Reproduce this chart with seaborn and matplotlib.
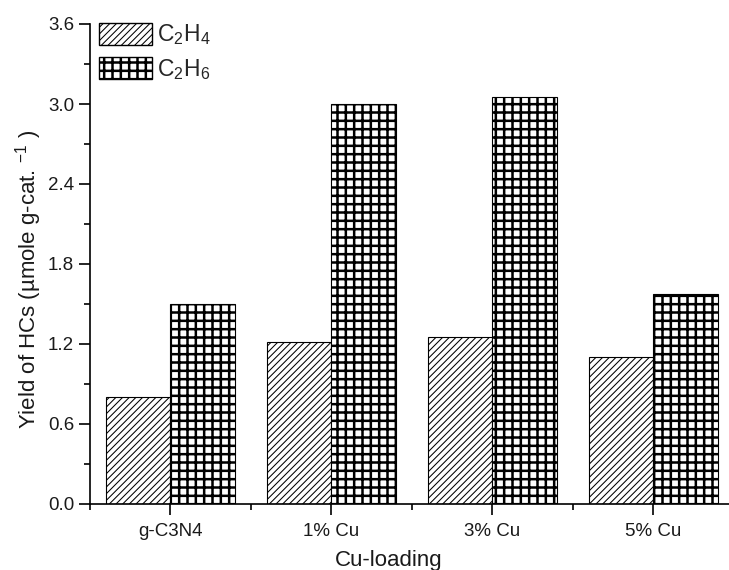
import numpy as np
import pandas as pd
import matplotlib
matplotlib.use('Agg')
import matplotlib.pyplot as plt
import seaborn as sns
from matplotlib.ticker import MultipleLocator, AutoMinorLocator, FixedLocator, FormatStrFormatter

# data
catalysts = ['g-C3N4', '1% Cu', '3% Cu', '5% Cu']
c2h4 = [0.80, 1.215, 1.25, 1.10]
c2h6 = [1.50, 3.00, 3.05, 1.575]
series = [r'C$_2$H$_4$', r'C$_2$H$_6$']
hatches = ['/////', '++']
hatch_lw = [0.75, 1.8]

sns.set_theme(style='ticks')
plt.rcParams['font.family'] = ['Liberation Sans', 'DejaVu Sans']
plt.rcParams['mathtext.fontset'] = 'custom'
plt.rcParams['mathtext.rm'] = 'Liberation Sans'
plt.rcParams['mathtext.it'] = 'Liberation Sans'
plt.rcParams['hatch.color'] = 'black'

df = pd.DataFrame({
    'catalyst': catalysts * 2,
    'gas': [series[0]] * 4 + [series[1]] * 4,
    'yield': c2h4 + c2h6,
})

fig = plt.figure(figsize=(7.29, 5.70), dpi=100)
ax = fig.add_axes([90 / 729, 66 / 570, 639 / 729, 480 / 570])

sns.barplot(data=df, x='catalyst', y='yield', hue='gas', ax=ax,
            palette=['white', 'white'], width=0.8,
            edgecolor='black', linewidth=0.8, saturation=1, errorbar=None)


def style_patch(p, i):
    p.set_hatch(hatches[i])
    p.set_facecolor('white')
    p.set_edgecolor('black')
    try:
        p.set_hatch_linewidth(hatch_lw[i])
    except AttributeError:
        pass


for i, cont in enumerate(ax.containers):
    for bar in cont:
        style_patch(bar, i)

ax.set_xlim(-0.5, 3.47)
ax.set_ylim(0, 3.6)
ax.yaxis.set_major_locator(MultipleLocator(0.6))
ax.yaxis.set_minor_locator(AutoMinorLocator(2))
ax.xaxis.set_minor_locator(FixedLocator([-0.5, 0.5, 1.5, 2.5]))
ax.yaxis.set_major_formatter(FormatStrFormatter('%.1f'))

ax.tick_params(axis='both', which='major', direction='out', length=8, width=1.2,
               labelsize=13.5, color='black', labelcolor='#1a1a1a')
ax.tick_params(axis='x', which='major', pad=6)
ax.tick_params(axis='both', which='minor', direction='out', length=4, width=1.2,
               color='black')

for side in ['top', 'right']:
    ax.spines[side].set_visible(False)
for side in ['left', 'bottom']:
    ax.spines[side].set_linewidth(1.2)
    ax.spines[side].set_color('black')

ax.set_xlabel('Cu-loading', fontsize=16, color='#1a1a1a')
ax.set_ylabel(r'Yield of HCs (µmole g-cat. $^{-1}$ )', fontsize=16,
              color='#1a1a1a')
ax.xaxis.set_label_coords(0.468, -0.095)
ax.yaxis.set_label_coords(-0.072, 0.467)

leg = ax.legend(loc='upper left', bbox_to_anchor=(0.014, 1.003), frameon=False,
                fontsize=16.5, handlelength=2.3, handleheight=1.1,
                handletextpad=0.25, labelspacing=0.4, borderpad=0,
                borderaxespad=0)
for i, h in enumerate(leg.legend_handles):
    style_patch(h, i)
    h.set_linewidth(1.0)

fig.savefig('out.png', dpi=100)
